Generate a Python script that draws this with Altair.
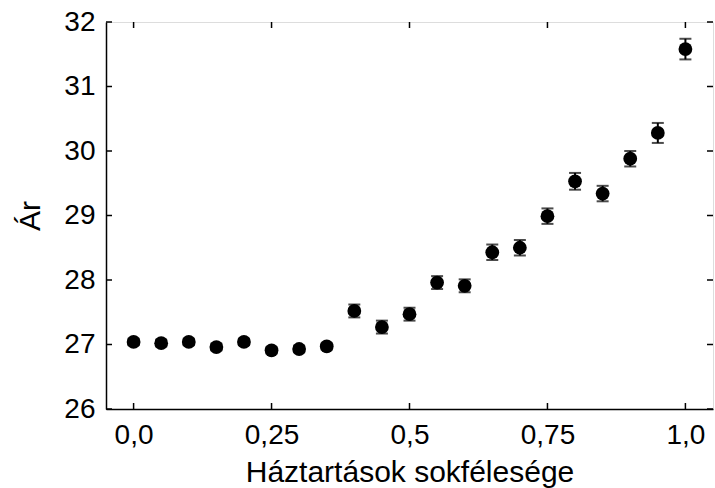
import altair as alt
import pandas as pd

# Diversity of households vs. price, mean with error bars
diversity = [0.0, 0.05, 0.10, 0.15, 0.20, 0.25, 0.30, 0.35, 0.40, 0.45, 0.50,
             0.55, 0.60, 0.65, 0.70, 0.75, 0.80, 0.85, 0.90, 0.95, 1.0]
price = [27.04, 27.02, 27.04, 26.96, 27.04, 26.91, 26.93, 26.97, 27.52, 27.27, 27.47,
         27.96, 27.91, 28.43, 28.50, 28.99, 29.53, 29.34, 29.88, 30.28, 31.58]
err = [0.05, 0.05, 0.05, 0.05, 0.05, 0.05, 0.05, 0.05, 0.10, 0.10, 0.10,
       0.10, 0.10, 0.12, 0.12, 0.12, 0.13, 0.12, 0.12, 0.155, 0.16]

x_ticks = [0.0, 0.25, 0.5, 0.75, 1.0]
x_tick_labels = ["0,0", "0,25", "0,5", "0,75", "1,0"]
y_ticks = [26, 27, 28, 29, 30, 31, 32]

W, H = 607, 387
TICK = 6
FONT = "Liberation Sans"

df = pd.DataFrame({"x": diversity, "y": price, "err": err})
df["lo"] = df["y"] - df["err"]
df["hi"] = df["y"] + df["err"]

xt = pd.DataFrame({"t": x_ticks})
yt = pd.DataFrame({"t": y_ticks})

xscale = alt.Scale(domain=[-0.05, 1.05], nice=False, zero=False)
yscale = alt.Scale(domain=[26, 32], nice=False, zero=False)

# label expression mapping tick values to comma-decimal text
label_expr = "".join(
    f"abs(datum.value - {v}) < 1e-9 ? '{lab}' : " for v, lab in zip(x_ticks, x_tick_labels)
) + "''"

x_axis = alt.Axis(values=x_ticks, labelExpr=label_expr, ticks=False, tickSize=0,
                  grid=False, domainColor="black", domainWidth=1.5,
                  labelFontSize=28, labelPadding=12, labelColor="black", labelFont=FONT,
                  title="Háztartások sokfélesége", titleFontSize=30, titleFont=FONT,
                  titleFontWeight="normal", titleColor="black", titlePadding=8)
y_axis = alt.Axis(values=y_ticks, format="d", ticks=False, tickSize=0,
                  grid=False, domainColor="black", domainWidth=1.5,
                  labelFontSize=28, labelPadding=11, labelColor="black", labelFont=FONT,
                  title="Ár", titleFontSize=30, titleFont=FONT,
                  titleFontWeight="normal", titleColor="black", titlePadding=18)

base = alt.Chart(df)

bars = base.mark_rule(color="black", strokeWidth=2).encode(
    x=alt.X("x:Q", scale=xscale, axis=x_axis),
    y=alt.Y("lo:Q", scale=yscale, axis=y_axis),
    y2="hi:Q",
)
cap_lo = base.mark_tick(color="black", orient="horizontal", size=12, thickness=2).encode(
    x=alt.X("x:Q", scale=xscale), y=alt.Y("lo:Q", scale=yscale))
cap_hi = base.mark_tick(color="black", orient="horizontal", size=12, thickness=2).encode(
    x=alt.X("x:Q", scale=xscale), y=alt.Y("hi:Q", scale=yscale))
points = base.mark_circle(color="black", opacity=1, size=190).encode(
    x=alt.X("x:Q", scale=xscale), y=alt.Y("y:Q", scale=yscale))

# inward-pointing tick marks on all four sides
tick_bottom = alt.Chart(xt).mark_rule(color="black", strokeWidth=1.5).encode(
    x=alt.X("t:Q", scale=xscale), y=alt.value(H), y2=alt.value(H - TICK))
tick_top = alt.Chart(xt).mark_rule(color="black", strokeWidth=1.5).encode(
    x=alt.X("t:Q", scale=xscale), y=alt.value(0), y2=alt.value(TICK))
tick_left = alt.Chart(yt).mark_rule(color="black", strokeWidth=1.5).encode(
    y=alt.Y("t:Q", scale=yscale), x=alt.value(0), x2=alt.value(TICK))
tick_right = alt.Chart(yt).mark_rule(color="black", strokeWidth=1.5).encode(
    y=alt.Y("t:Q", scale=yscale), x=alt.value(W - TICK), x2=alt.value(W))

chart = alt.layer(
    bars, cap_lo, cap_hi, points, tick_bottom, tick_top, tick_left, tick_right
).properties(
    width=W, height=H,
    autosize=alt.AutoSizeParams(type="none"),
    padding={"left": 106, "top": 22, "right": 2, "bottom": 79},
).configure_view(
    stroke="black", strokeWidth=1.5
).configure(background="white")

chart.save("out.html", embed_options={"renderer": "svg", "actions": False})
